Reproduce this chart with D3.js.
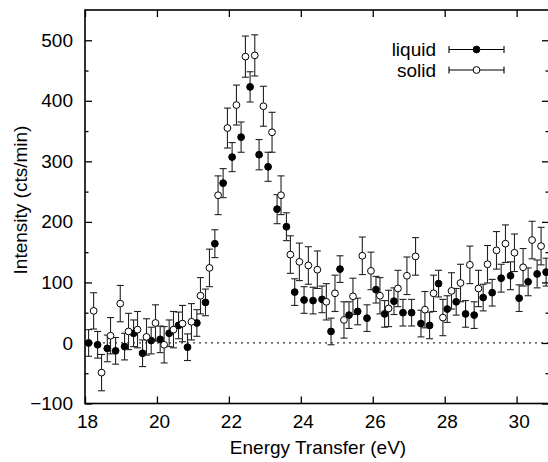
<!DOCTYPE html>
<html>
<head>
<meta charset="utf-8">
<script src="https://cdn.jsdelivr.net/npm/d3@7"></script>
<style>
  body { margin: 0; background: #fff; }
  text { font-family: "Liberation Sans", Arial, Helvetica, sans-serif; }
</style>
</head>
<body>
<svg id="svgPlot"></svg>
<script>
/////////////////////////////////////////////////////////////////////////////////////////

// DATA //////////////////////////////////////////////////////////

var liquidX = [18.10, 18.35, 18.62, 18.85, 19.10, 19.35, 19.60, 19.84, 20.09, 20.34,
               20.60, 20.85, 21.11, 21.35, 21.61, 21.84, 22.09, 22.34, 22.59, 22.84,
               23.09, 23.34, 23.60, 23.83, 24.09, 24.34, 24.59, 24.84, 25.09, 25.34,
               25.58, 25.84, 26.09, 26.33, 26.59, 26.84, 27.08, 27.34, 27.58, 27.83,
               28.07, 28.32, 28.58, 28.82, 29.07, 29.32, 29.57, 29.83, 30.07, 30.32,
               30.57, 30.82];
var liquidY = [0, -3, -9, -13, -6, 16, -17, 4, 6, 16,
               29, -7, 33, 67, 164, 264, 307, 340, 423, 311,
               291, 221, 192, 84, 71, 70, 72, 19, 122, 46,
               52, 41, 88, 48, 69, 50, 50, 32, 29, 98,
               56, 68, 48, 46, 75, 83, 107, 111, 74, 101,
               114, 117];
var liquidErr = [22, 22, 22, 22, 22, 22, 22, 22, 22, 22,
                 22, 22, 22, 22, 23, 24, 24, 25, 25, 25,
                 24, 24, 23, 22, 22, 22, 22, 22, 22, 22,
                 22, 22, 22, 22, 22, 22, 22, 22, 22, 22,
                 22, 22, 22, 22, 22, 22, 23, 23, 22, 23,
                 23, 23];

var solidX = [18.24, 18.46, 18.71, 18.98, 19.21, 19.46, 19.71, 19.96, 20.20, 20.46,
              20.71, 20.96, 21.21, 21.46, 21.70, 21.96, 22.21, 22.46, 22.72, 22.96,
              23.20, 23.45, 23.71, 23.96, 24.21, 24.46, 24.71, 24.95, 25.20, 25.45,
              25.71, 25.95, 26.20, 26.44, 26.70, 26.95, 27.19, 27.45, 27.69, 27.95,
              28.19, 28.44, 28.70, 28.94, 29.19, 29.44, 29.69, 29.94, 30.18, 30.43,
              30.68];
var solidY = [53, -49, 12, 65, 19, 22, 10, 33, -3, 22,
              32, 35, 78, 124, 244, 355, 393, 473, 475, 391,
              348, 244, 146, 134, 128, 121, 68, 82, 38, 77,
              144, 119, 78, 57, 90, 111, 143, 55, 82, 42,
              86, 99, 129, 90, 130, 153, 164, 149, 125, 170,
              160];
var solidErr = [30, 30, 30, 30, 30, 30, 30, 30, 30, 30,
                30, 30, 30, 31, 32, 33, 33, 34, 34, 33,
                33, 32, 31, 31, 31, 31, 30, 30, 30, 30,
                31, 31, 30, 30, 30, 31, 31, 30, 30, 30,
                30, 31, 31, 30, 31, 31, 31, 31, 31, 31,
                31];

var xTicks = [18, 20, 22, 24, 26, 28, 30];
var yTicks = [-100, 0, 100, 200, 300, 400, 500];
var yMinorTicks = [-50, 50, 150, 250, 350, 450];
var seriesNames = ["liquid", "solid"];

// SETUP ////////////////////////////////////////////////////////////////////////////////

var WIDTH = 548, HEIGHT = 462;
var PLOT_LEFT = 85, PLOT_RIGHT = 549, PLOT_TOP = 10, PLOT_BOTTOM = 403.5;
var FONT_SIZE = "19px";
var CAP = 3.5;      // half width of error bar caps
var R = 3.4;        // marker radius

var svg = d3.select("#svgPlot")
    .attr("width", WIDTH)
    .attr("height", HEIGHT);

var x = d3.scaleLinear().domain([18, 30.9]).range([PLOT_LEFT, PLOT_RIGHT]);
var y = d3.scaleLinear().domain([-100, 550]).range([PLOT_BOTTOM, PLOT_TOP]);

function makeSeries(xs, ys, es) {
    return xs.map(function (d, i) { return { x: d, y: ys[i], e: es[i] }; });
}

var liquid = makeSeries(liquidX, liquidY, liquidErr);
var solid = makeSeries(solidX, solidY, solidErr);

/////////////////////////////////////////////////////////////////////////////////////////

// zero line
svg.append("line")
    .attr("x1", PLOT_LEFT).attr("x2", PLOT_RIGHT)
    .attr("y1", y(0)).attr("y2", y(0))
    .attr("stroke", "#333")
    .attr("stroke-width", 1.2)
    .attr("stroke-dasharray", "2,4");

// error bars + markers, liquid first then solid (solid ends up on top)
function drawSeries(data, filled) {
    var g = svg.append("g");

    var bars = g.selectAll("g.err")
        .data(data)
        .enter().append("g")
        .attr("class", "err")
        .attr("stroke", "#222")
        .attr("stroke-width", 1.1);

    bars.append("line")
        .attr("x1", function (d) { return x(d.x); })
        .attr("x2", function (d) { return x(d.x); })
        .attr("y1", function (d) { return y(d.y - d.e); })
        .attr("y2", function (d) { return y(d.y + d.e); });

    bars.append("line")
        .attr("x1", function (d) { return x(d.x) - CAP; })
        .attr("x2", function (d) { return x(d.x) + CAP; })
        .attr("y1", function (d) { return y(d.y + d.e); })
        .attr("y2", function (d) { return y(d.y + d.e); });

    bars.append("line")
        .attr("x1", function (d) { return x(d.x) - CAP; })
        .attr("x2", function (d) { return x(d.x) + CAP; })
        .attr("y1", function (d) { return y(d.y - d.e); })
        .attr("y2", function (d) { return y(d.y - d.e); });

    g.selectAll("circle")
        .data(data)
        .enter().append("circle")
        .attr("cx", function (d) { return x(d.x); })
        .attr("cy", function (d) { return y(d.y); })
        .attr("r", R)
        .attr("fill", filled ? "#000" : "#fff")
        .attr("stroke", "#000")
        .attr("stroke-width", 1);
}

drawSeries(liquid, true);
drawSeries(solid, false);

// AXES /////////////////////////////////////////////////////////////////////////////////

function styleAxis(g) {
    g.select(".domain").remove();
    g.selectAll("line").attr("stroke", "#000").attr("stroke-width", 1.3);
    g.selectAll("text")
        .attr("fill", "#000")
        .style("font-size", FONT_SIZE);
}

svg.append("g")
    .attr("transform", "translate(0," + PLOT_BOTTOM + ")")
    .call(d3.axisBottom(x).tickValues(xTicks).tickSize(-7).tickPadding(11))
    .call(styleAxis)
    .selectAll("text").attr("dx", 2);

svg.append("g")
    .attr("transform", "translate(0," + PLOT_TOP + ")")
    .call(d3.axisTop(x).tickValues(xTicks).tickSize(-7).tickFormat(""))
    .call(styleAxis);

svg.append("g")
    .attr("transform", "translate(" + PLOT_LEFT + ",0)")
    .call(d3.axisLeft(y).tickValues(yTicks).tickSize(-7).tickPadding(12))
    .call(styleAxis);

svg.append("g")
    .attr("transform", "translate(" + PLOT_LEFT + ",0)")
    .call(d3.axisLeft(y).tickValues(yMinorTicks).tickSize(-3.5).tickFormat(""))
    .call(styleAxis);

svg.append("g")
    .attr("transform", "translate(" + PLOT_RIGHT + ",0)")
    .call(d3.axisRight(y).tickValues(yTicks).tickSize(-7).tickFormat(""))
    .call(styleAxis);

svg.append("g")
    .attr("transform", "translate(" + PLOT_RIGHT + ",0)")
    .call(d3.axisRight(y).tickValues(yMinorTicks).tickSize(-3.5).tickFormat(""))
    .call(styleAxis);

// frame
svg.append("rect")
    .attr("x", PLOT_LEFT).attr("y", PLOT_TOP)
    .attr("width", PLOT_RIGHT - PLOT_LEFT)
    .attr("height", PLOT_BOTTOM - PLOT_TOP)
    .attr("fill", "none")
    .attr("stroke", "#000")
    .attr("stroke-width", 1.6);

// axis titles
svg.append("text")
    .attr("x", 318).attr("y", 454)
    .attr("text-anchor", "middle")
    .style("font-size", FONT_SIZE)
    .text("Energy Transfer (eV)");

svg.append("text")
    .attr("transform", "translate(27,200) rotate(-90)")
    .attr("text-anchor", "middle")
    .style("font-size", FONT_SIZE)
    .text("Intensity (cts/min)");

// LEGEND ///////////////////////////////////////////////////////////////////////////////

var legend = svg.append("g")
    .selectAll("g")
    .data(seriesNames)
    .enter().append("g")
    .attr("transform", function (d, i) { return "translate(0," + (49.5 + i * 20.5) + ")"; });

legend.append("text")
    .attr("x", 436)
    .attr("dy", "0.35em")
    .attr("text-anchor", "end")
    .style("font-size", FONT_SIZE)
    .text(function (d) { return d; });

legend.append("line")
    .attr("x1", 449).attr("x2", 504)
    .attr("stroke", "#000").attr("stroke-width", 1.1);

legend.append("line")
    .attr("x1", 449).attr("x2", 449).attr("y1", -CAP).attr("y2", CAP)
    .attr("stroke", "#000").attr("stroke-width", 1.1);

legend.append("line")
    .attr("x1", 504).attr("x2", 504).attr("y1", -CAP).attr("y2", CAP)
    .attr("stroke", "#000").attr("stroke-width", 1.1);

legend.append("circle")
    .attr("cx", 476.5)
    .attr("r", R)
    .attr("fill", function (d) { return d === "liquid" ? "#000" : "#fff"; })
    .attr("stroke", "#000");
</script>
</body>
</html>
